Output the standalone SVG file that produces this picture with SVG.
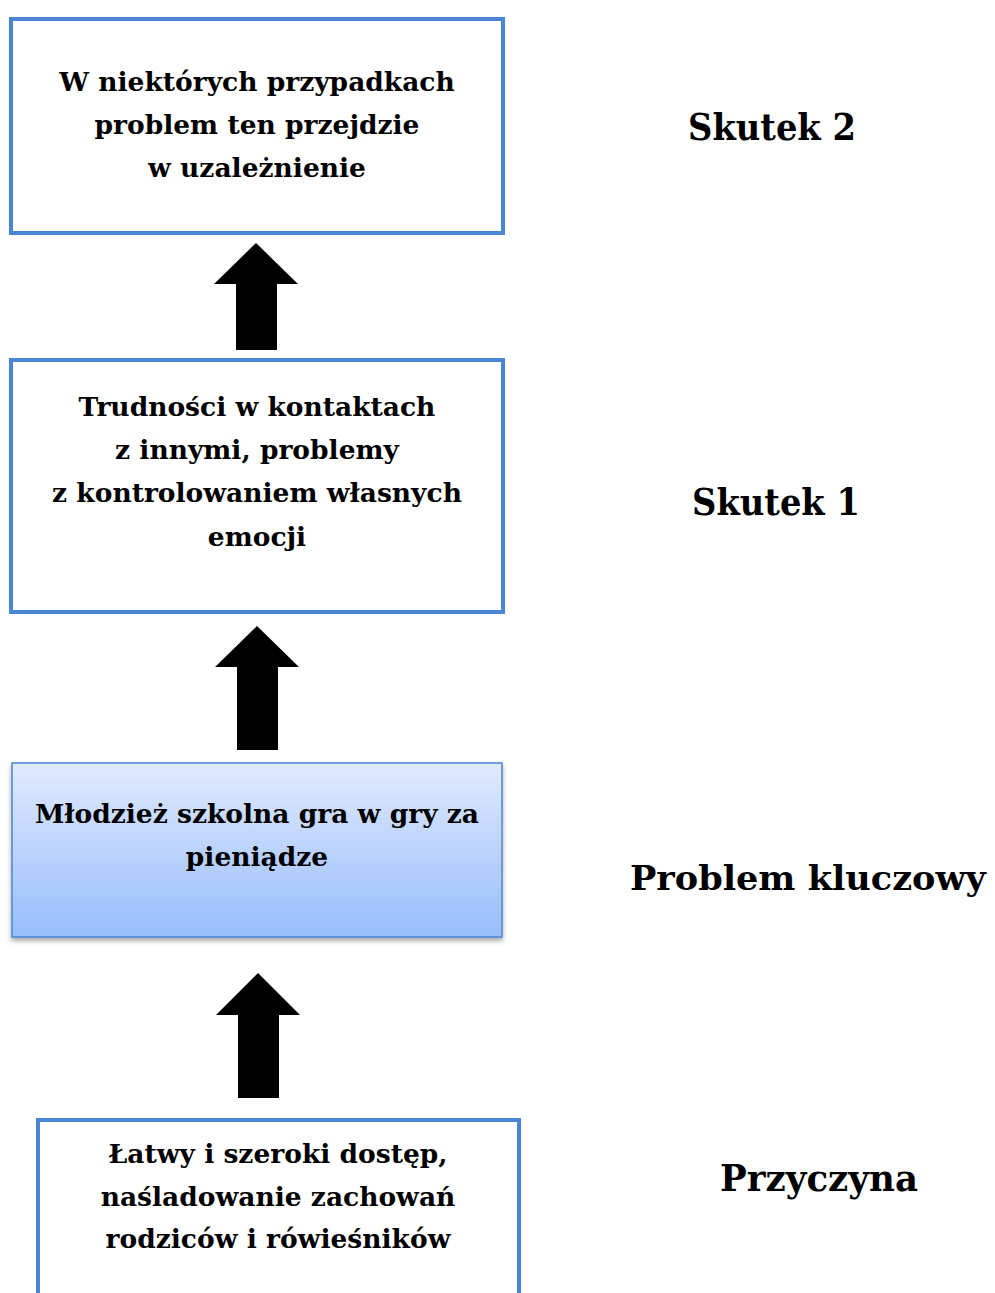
<svg xmlns="http://www.w3.org/2000/svg" width="995" height="1293" viewBox="0 0 995 1293">
<style>
.box{fill:#fff;stroke:#4A86D4;stroke-width:4}
.t{font-family:"DejaVu Serif","Liberation Serif",serif;font-weight:bold;font-size:26.5px;fill:#000;text-anchor:middle}
.lbl{font-family:"DejaVu Serif","Liberation Serif",serif;font-weight:bold;font-size:37px;fill:#000;text-anchor:middle}
.lbl2{font-family:"DejaVu Serif","Liberation Serif",serif;font-weight:bold;font-size:34px;fill:#000;text-anchor:middle}
.arr{fill:#000}
</style>
<defs>
<linearGradient id="g" x1="0" y1="0" x2="0" y2="1">
<stop offset="0" stop-color="#E0EBFE"/>
<stop offset="0.5" stop-color="#BCD3FD"/>
<stop offset="1" stop-color="#97BEFB"/>
</linearGradient>
<filter id="sh" x="-5%" y="-5%" width="110%" height="120%">
<feDropShadow dx="0" dy="3" stdDeviation="2.5" flood-color="#000" flood-opacity="0.35"/>
</filter>
</defs>
<g id="connectors">
<polygon class="arr" points="256,243 298,284 277,284 277,350 236,350 236,284 214,284"/>
<polygon class="arr" points="257,626 299,667 278,667 278,750 237,750 237,667 215,667"/>
<polygon class="arr" points="258,973 300,1015 279,1015 279,1098 238,1098 238,1015 216,1015"/>
</g>
<g id="skutek2">
<rect class="box" x="11" y="19" width="492" height="214"/>
<text class="t" x="257" y="91">W niektórych przypadkach</text>
<text class="t" x="257" y="134">problem ten przejdzie</text>
<text class="t" x="257" y="177">w uzależnienie</text>
</g>
<g id="skutek1">
<rect class="box" x="11" y="360" width="492" height="252"/>
<text class="t" x="257" y="416">Trudności w kontaktach</text>
<text class="t" x="257" y="459">z innymi, problemy</text>
<text class="t" x="257" y="502">z kontrolowaniem własnych</text>
<text class="t" x="257" y="546">emocji</text>
</g>
<g id="problem">
<rect x="12" y="763" width="490" height="174" fill="url(#g)" stroke="#4A86D4" stroke-width="1.5" filter="url(#sh)"/>
<text class="t" x="257" y="823">Młodzież szkolna gra w gry za</text>
<text class="t" x="257" y="866">pieniądze</text>
</g>
<g id="przyczyna">
<rect class="box" x="38" y="1120" width="481" height="200"/>
<text class="t" x="278" y="1163">Łatwy i szeroki dostęp,</text>
<text class="t" x="278" y="1206">naśladowanie zachowań</text>
<text class="t" x="278" y="1248">rodziców i rówieśników</text>
</g>
<g id="labels">
<text class="lbl" x="772" y="140" textLength="168" lengthAdjust="spacingAndGlyphs">Skutek 2</text>
<text class="lbl" x="776" y="515" textLength="168" lengthAdjust="spacingAndGlyphs">Skutek 1</text>
<text class="lbl2" x="808" y="890" textLength="356" lengthAdjust="spacingAndGlyphs">Problem kluczowy</text>
<text class="lbl" x="819" y="1191" textLength="198" lengthAdjust="spacingAndGlyphs">Przyczyna</text>
</g>
</svg>
